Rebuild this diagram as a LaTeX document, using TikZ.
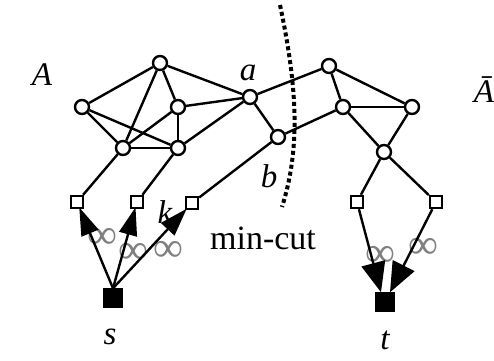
\documentclass[tikz,border=0pt]{standalone}
\usepackage{fontspec}
\setmainfont{Liberation Serif}
\usetikzlibrary{arrows.meta}

\tikzset{
  vtx/.style={circle, draw, fill=white, inner sep=0pt, minimum size=14pt},
  box/.style={rectangle, draw, fill=white, inner sep=0pt, minimum size=12pt},
  term/.style={rectangle, draw, fill=black, inner sep=0pt, minimum size=17pt},
  lbl/.style={font=\fontsize{33}{33}\selectfont\itshape, inner sep=0pt},
  inf/.style={font=\fontsize{42}{42}\selectfont, text=gray, inner sep=0pt},
  flow/.style={-{Triangle[length=28pt,width=18pt]}, shorten >=-2pt},
  bigflow/.style={-{Triangle[length=30pt,width=24pt]}}
}

\begin{document}
\begin{tikzpicture}[x=1pt, y=-1pt, line width=2.4pt]
    \useasboundingbox (0,0) rectangle (494,360);

    % Side A of the graph
    \node[vtx] (n1) at (160,63) {};
    \node[vtx] (n2) at (82,107) {};
    \node[vtx] (n3) at (178,107) {};
    \node[vtx] (n4) at (123,148) {};
    \node[vtx] (n5) at (178,148) {};
    \node[vtx] (a) at (250,97) {};
    \node[vtx] (b) at (278,137) {};

    % Side A-bar of the graph
    \node[vtx] (c) at (329,66) {};
    \node[vtx] (d) at (343,107) {};
    \node[vtx] (e) at (412,107) {};
    \node[vtx] (f) at (384,152) {};

    % Edges
    \foreach \u/\v in {n1/n2, n1/n4, n1/n3, n1/a, n2/n4, n2/n5, n3/n4, n3/n5,
                       n3/a, n4/n5, n5/a, a/b, a/c, b/d, c/d, c/e, d/e, d/f, e/f}
        \draw (\u) -- (\v);

    % Boundary squares
    \node[box] (q1) at (77,202) {};
    \node[box] (q2) at (137,202) {};
    \node[box] (q3) at (192,203) {};
    \node[box] (q4) at (357,202) {};
    \node[box] (q5) at (436,202) {};
    \draw (n4) -- (q1);
    \draw (n5) -- (q2);
    \draw (b) -- (q3);
    \draw (f) -- (q4);
    \draw (f) -- (q5);

    % Infinite capacities
    \node[inf] (i1) at (102,238) {∞};
    \node[inf] (i2) at (133,253) {∞};
    \node[inf] (i3) at (168,251) {∞};
    \node[inf] (i4) at (380,256) {∞};
    \node[inf] (i5) at (423,248) {∞};

    % Source and sink
    \node[term] (s) at (113,298) {};
    \node[term] (t) at (385,302) {};
    \foreach \q in {q1,q2,q3}
        \draw[flow] (s.north) -- (\q);
    \draw[bigflow] (q4) -- ([xshift=-4pt]t.north);
    \draw[bigflow] (q5) -- ([xshift=5pt]t.north);

    % The cut
    \draw[line width=4pt, dash pattern=on 4pt off 3pt] (280,5) .. controls (298,90) and (300,150) .. (282,207);

    % Labels
    \node[lbl] (lA) at (42,75) {A};
    \node[lbl] (lAbar) at (484,90) {Ā};
    \node[lbl] (la) at (248,73) {a};
    \node[lbl] (lb) at (269,176) {b};
    \node[lbl] (lk) at (165,212) {k};
    \node[font=\fontsize{34}{34}\selectfont] (lcut) at (263,238) {min-cut};
    \node[lbl] (ls) at (110,337) {s};
    \node[lbl] (lt) at (385,340) {t};
\end{tikzpicture}
\end{document}
